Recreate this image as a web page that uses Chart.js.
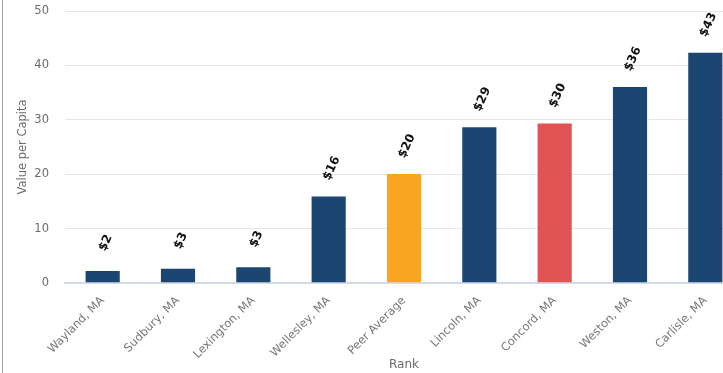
<!DOCTYPE html>
<html>
<head>
<meta charset="utf-8">
<script src="https://cdn.jsdelivr.net/npm/chart.js@4"></script>
<style>
  html, body { margin: 0; padding: 0; background: #fff; overflow: hidden; }
  #wrap { position: relative; width: 745px; height: 373px; }
  #edge { position: absolute; left: 2px; top: 0; width: 1px; height: 373px; background: #a0a0a0; }
</style>
</head>
<body>
<div id="wrap">
  <canvas id="grafico" width="745" height="373"></canvas>
  <div id="edge"></div>
</div>
<script>
// categorias e valores
const categorias = ["Wayland, MA", "Sudbury, MA", "Lexington, MA", "Wellesley, MA", "Peer Average",
                    "Lincoln, MA", "Concord, MA", "Weston, MA", "Carlisle, MA"];
const valores = [2.4, 2.8, 3.1, 16.1, 20.2, 28.8, 29.5, 36.2, 42.5];
const rotulos = ["$2", "$3", "$3", "$16", "$20", "$29", "$30", "$36", "$43"];
const cores = ["#1b4672", "#1b4672", "#1b4672", "#1b4672", "#f9a51f",
               "#1b4672", "#e05454", "#1b4672", "#1b4672"];
const ticksY = [0, 10, 20, 30, 40, 50];

// rótulos de valor girados acima das barras
const rotuloBarras = {
    id: "rotuloBarras",
    afterDatasetsDraw(chart) {
        const ctx = chart.ctx;
        const meta = chart.getDatasetMeta(0);
        ctx.save();
        ctx.fillStyle = "#111";
        ctx.font = "bold 12px 'DejaVu Sans'";
        ctx.textAlign = "center";
        ctx.textBaseline = "middle";
        meta.data.forEach((bar, i) => {
            ctx.save();
            ctx.translate(bar.x + 3, bar.y - 27);
            ctx.rotate(-65 * Math.PI / 180);
            ctx.fillText(rotulos[i], 0, 0);
            ctx.restore();
        });
        ctx.restore();
    }
};

new Chart(document.getElementById("grafico"), {
    type: "bar",
    data: {
        labels: categorias,
        datasets: [{
            data: valores,
            backgroundColor: cores,
            borderColor: "rgba(255,255,255,0.35)",
            borderWidth: 1,
            categoryPercentage: 1,
            barPercentage: 0.48
        }]
    },
    options: {
        responsive: false,
        animation: false,
        layout: { padding: { top: 11, right: 2, left: 16, bottom: 0 } },
        scales: {
            x: {
                grid: { display: false },
                border: { color: "#d3dbe8", width: 2 },
                ticks: {
                    color: "#777",
                    font: { family: "DejaVu Sans", size: 11.5 },
                    maxRotation: 45,
                    minRotation: 45,
                    padding: 3
                },
                title: {
                    display: true,
                    text: "Rank",
                    color: "#6b6b6b",
                    font: { family: "DejaVu Sans", size: 12 },
                    padding: { top: 0, bottom: 1 }
                },
                afterFit: s => { s.height = 90; s.paddingTop = 0; s.paddingBottom = 0; }
            },
            y: {
                min: 0,
                max: 50,
                afterBuildTicks: s => { s.ticks = ticksY.map(v => ({ value: v })); },
                grid: { color: "#e6e6e6", drawTicks: false },
                border: { display: false },
                ticks: {
                    color: "#6b6b6b",
                    font: { family: "DejaVu Sans", size: 11.5 },
                    padding: 16
                },
                title: {
                    display: true,
                    text: "Value per Capita",
                    color: "#6b6b6b",
                    font: { family: "DejaVu Sans", size: 11.5 },
                    padding: { top: 0, bottom: 0 }
                },
                afterFit: s => { s.width = 49; s.paddingTop = 0; s.paddingBottom = 0; }
            }
        },
        plugins: {
            legend: { display: false },
            tooltip: { enabled: false }
        }
    },
    plugins: [rotuloBarras]
});
</script>
</body>
</html>
